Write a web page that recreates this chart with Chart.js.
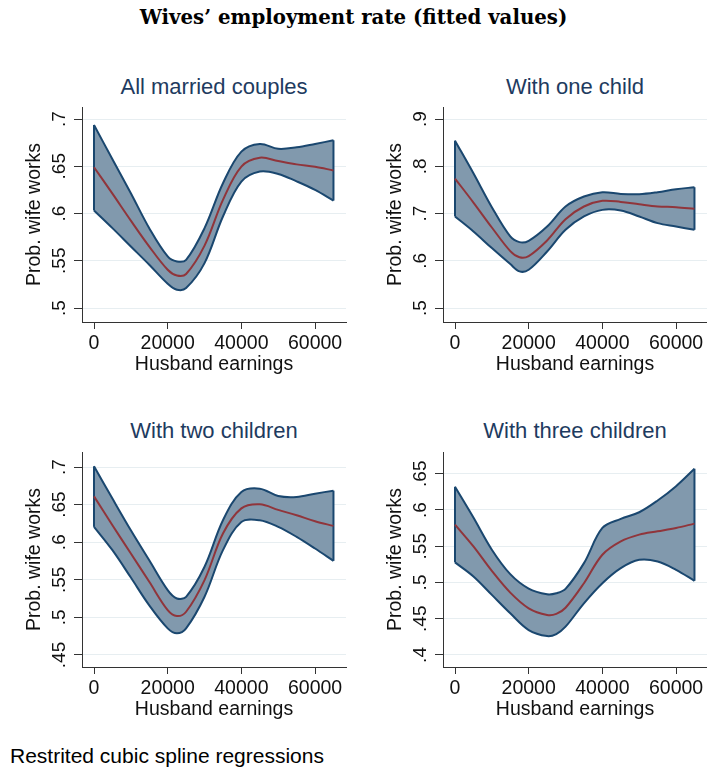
<!DOCTYPE html>
<html>
<head>
<meta charset="utf-8">
<script src="https://cdn.jsdelivr.net/npm/chart.js@4.4.1/dist/chart.umd.min.js"></script>
<style>
  body { margin: 0; width: 707px; height: 771px; position: relative; overflow: hidden; background: #fff;
         font-family: "Liberation Sans", Arial, sans-serif; }
  #title { position: absolute; left: 0; width: 707px; top: 5px; text-align: center; white-space: nowrap;
           font-family: "DejaVu Serif", serif; font-weight: bold; font-size: 17px; color: #000; }
  #title span { display: inline-block; }
  .ptitle { position: absolute; width: 300px; text-align: center; font-size: 22px; line-height: 22px;
            color: #1e3b60; white-space: nowrap; }
  canvas { position: absolute; }
  #note { position: absolute; left: 10px; top: 745px; font-size: 21px; line-height: 21px; color: #000; white-space: nowrap; }
</style>
</head>
<body>
<div id="title"><span>Wives’ employment rate (fitted values)</span></div>

<div class="ptitle" style="left:64px; top:76px;">All married couples</div>
<div class="ptitle" style="left:425px; top:76px;">With one child</div>
<div class="ptitle" style="left:64px; top:420px;">With two children</div>
<div class="ptitle" style="left:425px; top:420px;">With three children</div>

<canvas id="p1" width="353" height="330" style="left:0px; top:60px;"></canvas>
<canvas id="p2" width="353" height="330" style="left:361px; top:60px;"></canvas>
<canvas id="p3" width="353" height="330" style="left:0px; top:405px;"></canvas>
<canvas id="p4" width="353" height="330" style="left:361px; top:405px;"></canvas>

<div id="note">Restrited cubic spline regressions</div>

<script>
// husband earnings ticks, shared by all four panels
const earningsTicks = [0, 20000, 40000, 60000];

// All married couples
const p1Earnings = [0, 5000, 10000, 15000, 20000, 22500, 25000, 30000, 35000, 40000, 45000, 50000, 55000, 60000, 65000];
const p1Fit   = [.649, .621, .5925, .565, .5405, .5344, .536, .566, .6144, .6497, .659, .6555, .652, .6494, .6456];
const p1Upper = [.6937, .6574, .6215, .5845, .5546, .5493, .551, .5845, .632, .6655, .6736, .6685, .670, .6736, .6775];
const p1Lower = [.6032, .5845, .5651, .5458, .5257, .5194, .5211, .5475, .5968, .6338, .6444, .6419, .634, .625, .6137];
const p1Ticks = [.5, .55, .6, .65, .7];

// With one child
const p2Earnings = [0, 5000, 10000, 15000, 17500, 20000, 25000, 30000, 35000, 40000, 45000, 50000, 55000, 60000, 65000];
const p2Fit   = [.774, .7232, .6704, .6205, .6075, .61, .643, .688, .7148, .7268, .7245, .7195, .715, .7134, .7099];
const p2Upper = [.8542, .7852, .7134, .6514, .6394, .6423, .6725, .7148, .7359, .7451, .7415, .7408, .7451, .7514, .7556];
const p2Lower = [.6937, .662, .6268, .593, .5775, .581, .6197, .6655, .6937, .7077, .7063, .6937, .6796, .6725, .6655];
const p2Ticks = [.5, .6, .7, .8, .9];

// With two children
const p3Earnings = [0, 5000, 10000, 15000, 20000, 22500, 25000, 30000, 35000, 40000, 45000, 50000, 55000, 60000, 65000];
const p3Fit   = [.661, .6226, .585, .5473, .5097, .5018, .5075, .5496, .6115, .645, .6504, .643, .6358, .6279, .6217];
const p3Upper = [.7009, .658, .6159, .576, .5363, .5252, .5274, .5673, .6292, .6668, .6712, .6615, .6602, .6646, .6686];
const p3Lower = [.6204, .5894, .553, .516, .4854, .4788, .4854, .5274, .5894, .627, .6292, .6204, .6071, .5916, .5752];
const p3Ticks = [.45, .5, .55, .6, .65, .7];

// With three children
const p4Earnings = [0, 5000, 10000, 15000, 20000, 25000, 27500, 30000, 35000, 40000, 45000, 50000, 55000, 60000, 65000];
const p4Fit   = [.5798, .5498, .516, .486, .4644, .4552, .4566, .4651, .499, .5383, .5567, .566, .5706, .5752, .5812];
const p4Upper = [.632, .5895, .5452, .5115, .4916, .4838, .4852, .4912, .5267, .5752, .5877, .5969, .6131, .6329, .6569];
const p4Lower = [.5277, .5083, .4829, .4575, .4344, .4261, .4289, .439, .4713, .499, .5198, .5313, .529, .5175, .5023];
const p4Ticks = [.4, .45, .5, .55, .6, .65];

const NAVY = "#1a476f";
const BAND = "#8199ad";
const MAROON = "#90353b";
const FONT = '"Liberation Sans", Arial, sans-serif';
const SMOOTH = 0.35;

Chart.defaults.font.family = FONT;

// Stata style tick label: .65 instead of 0.65
const stataLabel = (v) => String(+v.toFixed(2)).replace(/^0\./, ".");
const pts = (xs, ys) => xs.map((x, i) => ({ x, y: ys[i] }));

// y tick labels in Stata are turned 90 degrees
const rotatedYTicks = {
  id: "rotatedYTicks",
  afterDraw(chart) {
    const s = chart.scales.y;
    const ctx = chart.ctx;
    ctx.save();
    ctx.font = `19px ${FONT}`;
    ctx.fillStyle = "#111";
    ctx.textAlign = "center";
    ctx.textBaseline = "middle";
    s.ticks.forEach((t) => {
      ctx.save();
      ctx.translate(chart.chartArea.left - 22, s.getPixelForValue(t.value));
      ctx.rotate(-Math.PI / 2);
      ctx.fillText(stataLabel(t.value), 0, 0);
      ctx.restore();
    });
    ctx.restore();
  }
};

function panel(id, xs, fit, upper, lower, yTicks, yMin, yMax) {
  const last = xs.length - 1;
  const edge = (i) => ({
    data: [{ x: xs[i], y: lower[i] }, { x: xs[i], y: upper[i] }],
    borderColor: NAVY, borderWidth: 2, pointRadius: 0, fill: false, tension: 0
  });
  return new Chart(document.getElementById(id), {
    type: "line",
    data: {
      datasets: [
        { data: pts(xs, fit), borderColor: MAROON, borderWidth: 2, pointRadius: 0, fill: false, tension: SMOOTH },
        { data: pts(xs, upper), borderColor: NAVY, borderWidth: 2, pointRadius: 0, backgroundColor: BAND, fill: "+1", tension: SMOOTH },
        { data: pts(xs, lower), borderColor: NAVY, borderWidth: 2, pointRadius: 0, fill: false, tension: SMOOTH },
        edge(0),
        edge(last)
      ]
    },
    options: {
      responsive: false,
      animation: false,
      devicePixelRatio: 1,
      layout: { padding: { top: 47, right: 7, left: 0, bottom: 0 } },
      plugins: {
        legend: { display: false },
        tooltip: { enabled: false },
        filler: { drawTime: "beforeDatasetsDraw" }
      },
      scales: {
        x: {
          type: "linear", min: -3260, max: 68400,
          afterBuildTicks: (s) => { s.ticks = earningsTicks.map((v) => ({ value: v })); },
          afterFit: (s) => { s.height = 68; },
          grid: { drawOnChartArea: false, tickLength: 7, tickColor: "#333" },
          border: { color: "#333", width: 1 },
          ticks: { color: "#111", font: { size: 19.5 }, padding: 3, maxRotation: 0, autoSkip: false, callback: (v) => String(v) },
          title: { display: true, text: "Husband earnings", color: "#111", font: { size: 19.5 }, padding: { top: 0, bottom: 14 } }
        },
        y: {
          type: "linear", min: yMin, max: yMax,
          afterBuildTicks: (s) => { s.ticks = yTicks.map((v) => ({ value: v })); },
          afterFit: (s) => { s.width = 82; },
          grid: { color: "#e7eef1", lineWidth: 1, tickLength: 8, tickColor: "#333" },
          border: { color: "#333", width: 1 },
          ticks: { display: false },
          title: { display: true, text: "Prob. wife works", color: "#111", font: { size: 19.5 }, padding: { top: 23, bottom: 0 } }
        }
      }
    },
    plugins: [rotatedYTicks]
  });
}

panel("p1", p1Earnings, p1Fit, p1Upper, p1Lower, p1Ticks, 0.4852, 0.7127);
panel("p2", p2Earnings, p2Fit, p2Upper, p2Lower, p2Ticks, 0.4704, 0.9254);
panel("p3", p3Earnings, p3Fit, p3Upper, p3Lower, p3Ticks, 0.434, 0.72);
panel("p4", p4Earnings, p4Fit, p4Upper, p4Lower, p4Ticks, 0.3834, 0.68);

// stretch the serif heading to the width it has in the original
const head = document.querySelector("#title span");
const w = head.getBoundingClientRect().width;
document.getElementById("title").style.fontSize = (17 * 428 / w) + "px";
</script>
</body>
</html>
